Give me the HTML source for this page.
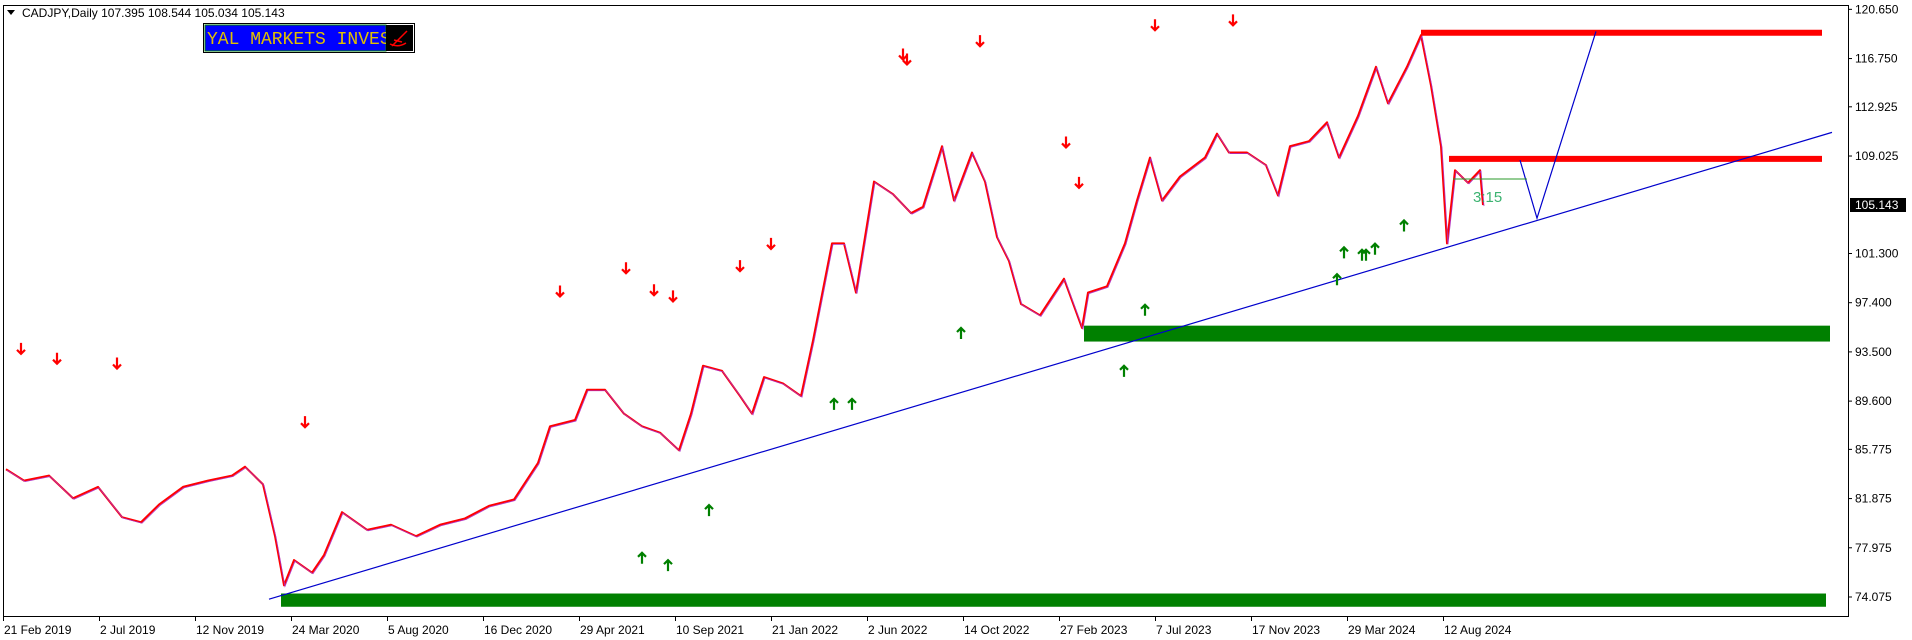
<!DOCTYPE html>
<html><head><meta charset="utf-8"><style>
html,body{margin:0;padding:0;background:#fff;width:1912px;height:640px;overflow:hidden}
svg text{font-family:"Liberation Sans",Tahoma,sans-serif}
</style></head><body>
<svg id="chart" width="1912" height="640" xmlns="http://www.w3.org/2000/svg">
<rect x="3.5" y="5.5" width="1845" height="611" fill="#fff" stroke="#000" stroke-width="1"/>
<g id="grid"></g>
<g id="zones"></g>
<g id="series"></g>
<g id="lines"></g>
<g id="arrows"></g>
<g id="yaxis"></g>
<g id="xaxis"></g>
<text x="22" y="17" font-size="12" fill="#000">CADJPY,Daily  107.395 108.544 105.034 105.143</text>
<path d="M7 10 L15 10 L11 15 Z" fill="#000"/>
<g>
<rect x="203.5" y="23.5" width="211" height="29" fill="#fff" stroke="#000"/>
<rect x="205" y="25" width="181" height="26" fill="#0000ff" stroke="#008000"/>
<text x="207" y="44" font-size="18" fill="#e0c000" style="font-family:'Liberation Mono',monospace">YAL MARKETS INVES</text>
<rect x="386" y="25" width="27" height="26" fill="#000"/>
<path d="M392 46 L407 31 M390 44 Q398 48 406 43 M394 40 L402 42" stroke="#ff0000" stroke-width="1.5" fill="none"/>
</g>
</svg>
<script>
const priceBars=[3,21,46,70,95,119,138,156,180,205,229,242,260,272,281,291,309,321,339,364,388,413,437,462,486,511,535,547,572,584,602,621,639,657,676,688,700,719,737,749,761,780,798,810,829,841,853,871,890,908,920,939,951,969,982,994,1006,1018,1037,1061,1079,1085,1104,1122,1134,1147,1159,1177,1202,1214,1226,1244,1263,1275,1287,1306,1324,1336,1355,1373,1385,1404,1418,1428,1438,1444,1452,1465,1477,1480];
const priceCloses=[84.2,83.3,83.7,81.9,82.8,80.4,80,81.4,82.8,83.3,83.7,84.4,83,78.9,75,77,76,77.4,80.8,79.4,79.8,78.9,79.8,80.3,81.3,81.8,84.7,87.6,88.1,90.5,90.5,88.6,87.6,87.1,85.7,88.6,92.4,92,90,88.6,91.5,91,90,94.4,102.1,102.1,98.2,107,106,104.5,105,109.8,105.5,109.3,107,102.6,100.7,97.3,96.4,99.3,95.4,98.2,98.7,102.1,105.5,108.9,105.5,107.4,108.9,110.8,109.3,109.3,108.3,105.9,109.8,110.2,111.7,108.9,112.2,116.1,113.2,116.1,118.6,114.6,109.8,102.1,107.9,106.9,107.9,105.14];
const downArrowBars=[18,54,114,302,557,623,651,670,737,768,900,904,977,1063,1076,1152,1230];
const downArrowPrices=[93.74,92.96,92.58,87.93,98.29,100.13,98.39,97.9,100.3,102.06,117.07,116.68,118.13,110.1,106.9,119.39,119.78];
const upArrowBars=[639,665,706,831,849,958,1121,1142,1334,1341,1359,1363,1372,1401];
const upArrowPrices=[77.18,76.6,80.96,89.38,89.38,95.0,92.0,96.84,99.26,101.39,101.2,101.2,101.68,103.52];
const yTicks=[120.650,116.750,112.925,109.025,101.300,97.400,93.500,89.600,85.775,81.875,77.975,74.075];
const xTickLabels=["21 Feb 2019","2 Jul 2019","12 Nov 2019","24 Mar 2020","5 Aug 2020","16 Dec 2020","29 Apr 2021","10 Sep 2021","21 Jan 2022","2 Jun 2022","14 Oct 2022","27 Feb 2023","7 Jul 2023","17 Nov 2023","29 Mar 2024","12 Aug 2024"];
const lastPrice=105.143;
const NS="http://www.w3.org/2000/svg";
function X(b){return 3+b;}
function Y(p){return 205+(105.143-p)*12.617;}
function mk(t,a,parent){const e=document.createElementNS(NS,t);for(const k in a)e.setAttribute(k,a[k]);document.getElementById(parent).appendChild(e);return e;}
let z=mk('rect',{x:X(278),y:Y(74.35),width:X(1823)-X(278),height:Y(73.3)-Y(74.35),fill:'#008000'},'zones');


z=mk('rect',{x:X(1081),y:Y(95.58),width:X(1827)-X(1081),height:Y(94.32)-Y(95.58),fill:'#008000'},'zones');


let pts=priceBars.map((b,i)=>X(b)+','+Y(priceCloses[i])).join(' ');
let s=mk('polyline',{points:pts,fill:'none',stroke:'#ff0000','stroke-width':2,'stroke-linejoin':'round'},'series');


s=mk('polyline',{points:pts,fill:'none',stroke:'#b030c0','stroke-width':0.8,transform:'translate(1,1)'},'series');


let l=mk('line',{x1:X(1418),y1:Y(118.8),x2:X(1819),y2:Y(118.8),stroke:'#ff0000','stroke-width':6},'lines');


l=mk('line',{x1:X(1446),y1:Y(108.8),x2:X(1819),y2:Y(108.8),stroke:'#ff0000','stroke-width':6},'lines');


l=mk('line',{x1:X(266),y1:Y(73.9),x2:X(1829),y2:Y(110.9),stroke:'#0000cc','stroke-width':1.2},'lines');


l=mk('polyline',{points:X(1517)+','+Y(108.7)+' '+X(1534)+','+Y(104.1)+' '+X(1593)+','+Y(118.9),fill:'none',stroke:'#0000cc','stroke-width':1.2},'lines');


l=mk('line',{x1:X(1450),y1:Y(107.2),x2:X(1524),y2:Y(107.2),stroke:'#2a9a2a','stroke-width':1},'lines');


let t=mk('text',{x:X(1470),y:Y(105.4),'font-size':15,fill:'#3cb371'},'lines');t.textContent='3:15';


downArrowBars.forEach((b,i)=>{const x=X(b),y=Y(downArrowPrices[i]);
 const a=mk('path',{d:`M${x} ${y-6} L${x} ${y+5} M${x-4} ${y+1} L${x} ${y+5} L${x+4} ${y+1}`,stroke:'#ff0000','stroke-width':2.2,fill:'none'},'arrows');
 
 });
upArrowBars.forEach((b,i)=>{const x=X(b),y=Y(upArrowPrices[i]);
 const a=mk('path',{d:`M${x} ${y+6} L${x} ${y-5} M${x-4} ${y-1} L${x} ${y-5} L${x+4} ${y-1}`,stroke:'#008000','stroke-width':2.2,fill:'none'},'arrows');
 
 });
yTicks.forEach(v=>{const y=Y(v);
 const tk=mk('line',{x1:1848,y1:y,x2:1852,y2:y,stroke:'#000'},'yaxis');
 
 
 const tx=mk('text',{x:1855,y:y+4,'font-size':12,fill:'#000'},'yaxis');tx.textContent=v.toFixed(3);
 
 });
const pb=mk('rect',{x:1850,y:Y(lastPrice)-7,width:56,height:14,fill:'#000'},'yaxis');


const pt=mk('text',{x:1855,y:Y(lastPrice)+4,'font-size':12,fill:'#fff'},'yaxis');pt.textContent=lastPrice.toFixed(3);


xTickLabels.forEach((lab,i)=>{const x=3+96*i;
 const tk=mk('line',{x1:x+0.5,y1:616,x2:x+0.5,y2:621,stroke:'#000'},'xaxis');
 
 
 const tx=mk('text',{x:x+1,y:634,'font-size':12,fill:'#000'},'xaxis');tx.textContent=lab;
 
 });
</script>
</body></html>
